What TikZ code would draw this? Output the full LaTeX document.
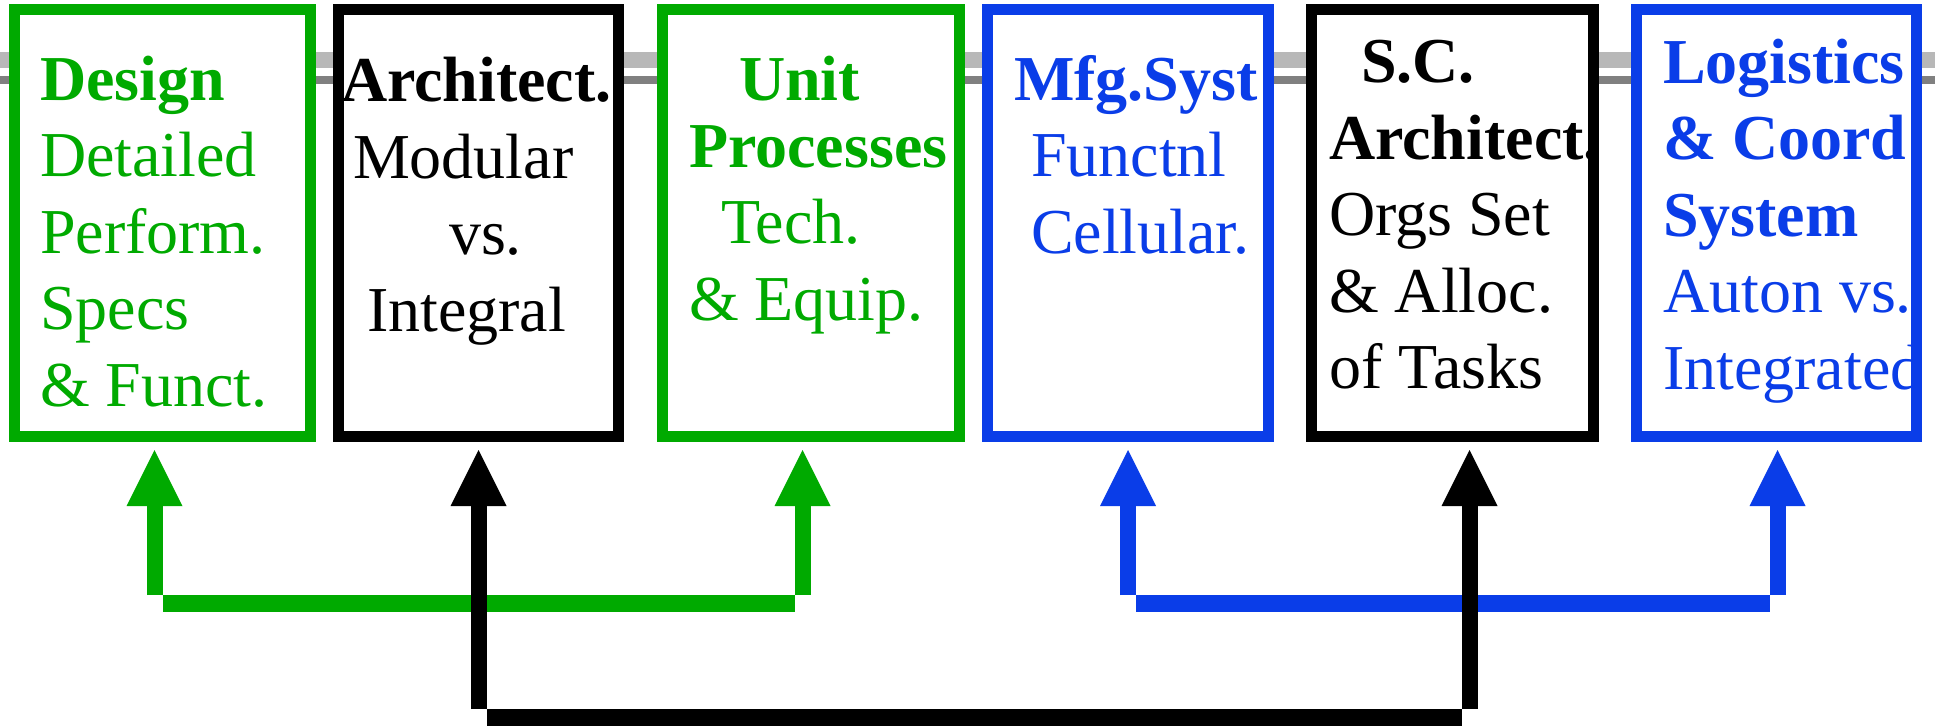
\documentclass[tikz,border=0pt]{standalone}
\usepackage{fontspec}
\setmainfont{Liberation Serif}
\usetikzlibrary{arrows.meta}
\definecolor{lgreen}{RGB}{0,170,0}
\definecolor{lblue}{RGB}{10,61,232}
\definecolor{bandedge}{RGB}{184,184,184}
\definecolor{bandmid}{RGB}{232,232,232}
\definecolor{ruleedge}{RGB}{128,128,128}
\definecolor{rulemid}{RGB}{204,204,204}
\begin{document}
\begin{tikzpicture}[x=1pt,y=-1pt,
  box/.style={draw=#1, line width=11pt, fill=white, minimum height=427pt, inner sep=0pt},
  boxtext/.style={anchor=north west, inner sep=0pt, outer sep=0pt, align=left,
    text=#1, font=\fontsize{64}{76.5}\selectfont},
  up/.style={draw=#1, line width=16pt,
    -{Triangle[length=56pt,width=56pt,line width=0pt]}, shorten >=8pt},
  bar/.style={draw=#1, line width=17pt}
]
\useasboundingbox (0,0) rectangle (1935,726);
\fill[white] (0,0) rectangle (1935,726);

% double rule running behind the boxes
\shade[left color=bandedge, middle color=bandmid, right color=bandedge]
  (0,52) rectangle (1935,67.5);
\shade[left color=ruleedge, middle color=rulemid, right color=ruleedge]
  (0,76) rectangle (1935,83.5);

% the six boxes
\node[box=lgreen, minimum width=296pt] (b1) at (162.5,223) {};
\node[box=black,  minimum width=280pt] (b2) at (478.5,223) {};
\node[box=lgreen, minimum width=297pt] (b3) at (811,223) {};
\node[box=lblue,  minimum width=281pt] (b4) at (1128,223) {};
\node[box=black,  minimum width=282pt] (b5) at (1452.5,223) {};
\node[box=lblue,  minimum width=280pt] (b6) at (1776.5,223) {};

% box texts
\node[boxtext=lgreen] (t1) at (40,50)
  {\rule{0pt}{50pt}\textbf{Design}\\Detailed\\Perform.\\Specs\\\& Funct.};
\node[boxtext=black] (t2) at (341,51.5)
  {\rule{0pt}{50pt}\textbf{Architect.}\\\hspace*{12pt}Modular\\\hspace*{108pt}vs.\\\hspace*{26pt}Integral};
\node[boxtext=lgreen] (t3) at (689,50)
  {\rule{0pt}{50pt}\hspace*{50pt}\textbf{Unit}\\[-9.5pt]\textbf{Processes}\\\hspace*{32pt}Tech.\\\& Equip.};
\node[boxtext=lblue] (t4) at (1014,50)
  {\rule{0pt}{50pt}\textbf{Mfg.Syst}\\\hspace*{17pt}Functnl\\\hspace*{17pt}Cellular.};
\node[boxtext=black] (t5) at (1329,32.5)
  {\rule{0pt}{50pt}\hspace*{32pt}\textbf{S.C.}\\\textbf{Architect.}\\Orgs Set\\\& Alloc.\\of Tasks};
\node[boxtext=lblue] (t6) at (1663,33)
  {\rule{0pt}{50pt}\textbf{Logistics}\\\textbf{\& Coord}\\\textbf{System}\\Auton vs.\\Integrated};

% connector end points
\coordinate (gL) at (154.5,595);
\coordinate (gR) at (802.5,595);
\coordinate (gBL) at (162.5,603.5);
\coordinate (gBR) at (794.5,603.5);
\coordinate (uL) at (1128,595);
\coordinate (uR) at (1777.5,595);
\coordinate (uBL) at (1136,603.5);
\coordinate (uBR) at (1769.5,603.5);
\coordinate (kL) at (478.5,709);
\coordinate (kR) at (1469.5,709);
\coordinate (kBL) at (486.5,717.5);
\coordinate (kBR) at (1461.5,717.5);

% green pair
\draw[bar=lgreen] (gBL) -- (gBR);
\draw[up=lgreen] (gL) -- (gL |- b1.south);
\draw[up=lgreen] (gR) -- (gR |- b3.south);

% blue pair
\draw[bar=lblue] (uBL) -- (uBR);
\draw[up=lblue] (uL) -- (uL |- b4.south);
\draw[up=lblue] (uR) -- (uR |- b6.south);

% black pair
\draw[bar=black] (kBL) -- (kBR);
\draw[up=black] (kL) -- (kL |- b2.south);
\draw[up=black] (kR) -- (kR |- b5.south);
\end{tikzpicture}
\end{document}
